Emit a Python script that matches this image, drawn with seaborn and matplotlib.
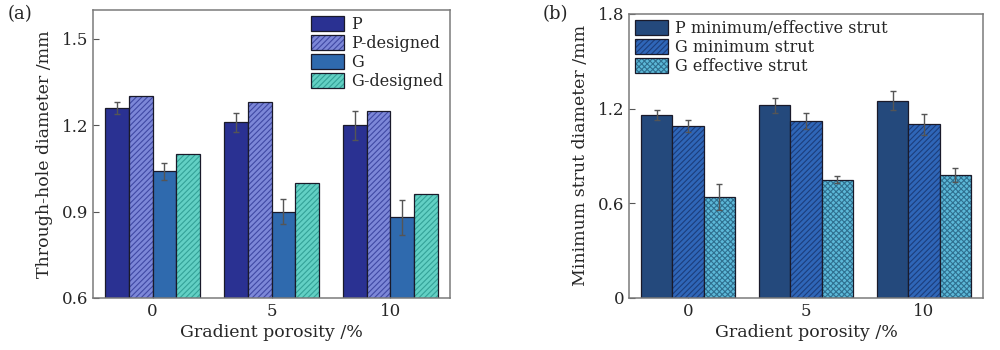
import pandas as pd
import seaborn as sns
import numpy as np
import matplotlib.pyplot as plt
from matplotlib.colors import to_rgba

# ---- data ----
porosity = ['0', '5', '10']

# (a) through-hole diameter
series_a = ['P', 'P-designed', 'G', 'G-designed']
p_hole = [1.26, 1.21, 1.20]
p_hole_err = [0.02, 0.034, 0.05]
p_designed = [1.30, 1.28, 1.25]
g_hole = [1.04, 0.90, 0.88]
g_hole_err = [0.03, 0.042, 0.06]
g_designed = [1.10, 1.00, 0.96]

# (b) strut diameter
series_b = ['P minimum/effective strut', 'G minimum strut', 'G effective strut']
p_strut = [1.16, 1.22, 1.25]
p_strut_err = [0.03, 0.046, 0.06]
g_min_strut = [1.09, 1.12, 1.10]
g_min_strut_err = [0.036, 0.05, 0.067]
g_eff_strut = [0.64, 0.75, 0.78]
g_eff_strut_err = [0.08, 0.02, 0.046]

sns.set_style('ticks')
plt.rcParams['font.family'] = ['DejaVu Serif']
plt.rcParams['hatch.linewidth'] = 0.8

df_a = pd.DataFrame({
    'porosity': porosity * 4,
    'series': np.repeat(series_a, 3),
    'value': p_hole + p_designed + g_hole + g_designed,
})
err_a = [p_hole_err, [0, 0, 0], g_hole_err, [0, 0, 0]]
df_b = pd.DataFrame({
    'porosity': porosity * 3,
    'series': np.repeat(series_b, 3),
    'value': p_strut + g_min_strut + g_eff_strut,
})
err_b = [p_strut_err, g_min_strut_err, g_eff_strut_err]

colors_a = ['#2a3192', '#7c87d8', '#2f6aae', '#62d0c4']
hatch_a = ['', '//////', '', '//////']
hatchcol_a = [None, '#4049a4', None, '#34a298']
colors_b = ['#24497c', '#2f66b8', '#5cb8d8']
hatch_b = ['', '//////', 'xxxxxx']
hatchcol_b = [None, '#1c3e7c', '#2f7090']

fig = plt.figure(figsize=(10, 3.5), dpi=100)
ax1 = fig.add_axes([0.093, 0.149, 0.357, 0.822])
ax2 = fig.add_axes([0.629, 0.149, 0.354, 0.811])


def style_patch(p, h, hc):
    p.set_hatch(h)
    if hc is not None:
        p._hatch_color = to_rgba(hc)


def draw(ax, df, order, colors, hatches, hcols, errs):
    sns.barplot(data=df, x='porosity', y='value', hue='series', hue_order=order,
                order=porosity, palette=colors, errorbar=None, width=0.8,
                edgecolor='#1a1a2a', linewidth=0.9, saturation=1, ax=ax)
    for cont, h, hc, e in zip(ax.containers, hatches, hcols, errs):
        for bar, ee in zip(cont, e):
            style_patch(bar, h, hc)
            if ee > 0:
                ax.errorbar(bar.get_x() + bar.get_width() / 2, bar.get_height(),
                            yerr=ee, color='#555555', elinewidth=1,
                            capsize=2.5, capthick=1, zorder=5)
    for s in ax.spines.values():
        s.set_color('#7a7a7a')
        s.set_linewidth(1.1)
    ax.tick_params(direction='in', labelsize=12, length=4, color='#555555')
    ax.set_xlim(-0.5, 2.5)
    ax.set_xlabel('Gradient porosity /%', fontsize=12.5, labelpad=3)


def legend(ax, anchor, hatches, hcols):
    leg = ax.legend(loc='upper left', frameon=False, fontsize=11.5, handlelength=2.05,
                    handleheight=1.05, labelspacing=0.12, handletextpad=0.45,
                    borderpad=0, borderaxespad=0, bbox_to_anchor=anchor)
    for p, h, hc in zip(leg.legend_handles, hatches, hcols):
        style_patch(p, h, hc)


draw(ax1, df_a, series_a, colors_a, hatch_a, hatchcol_a, err_a)
ax1.set_ylim(0.6, 1.6)
ax1.set_yticks([0.6, 0.9, 1.2, 1.5])
ax1.set_ylabel('Through-hole diameter /mm', fontsize=12.5, labelpad=6)
legend(ax1, (0.61, 0.979), hatch_a, hatchcol_a)

draw(ax2, df_b, series_b, colors_b, hatch_b, hatchcol_b, err_b)
ax2.set_ylim(0, 1.8)
ax2.set_yticks([0, 0.6, 1.2, 1.8])
ax2.set_yticklabels(['0', '0.6', '1.2', '1.8'])
ax2.set_ylabel('Minimum strut diameter /mm', fontsize=12.5, labelpad=6)
legend(ax2, (0.017, 0.979), hatch_b, hatchcol_b)

fig.text(0.008, 0.96, '(a)', fontsize=13, va='center')
fig.text(0.543, 0.96, '(b)', fontsize=13, va='center')

fig.savefig('out.png', dpi=100)
